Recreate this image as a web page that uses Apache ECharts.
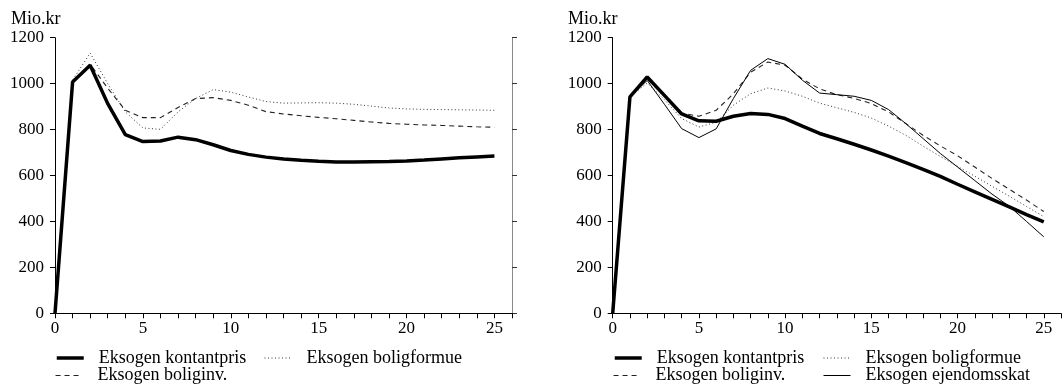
<!DOCTYPE html>
<html>
<head>
<meta charset="utf-8">
<script src="https://cdn.jsdelivr.net/npm/echarts@6/dist/echarts.min.js"></script>
<style>
html,body{margin:0;padding:0;background:#fff;}
#c{width:1064px;height:385px;}
</style>
</head>
<body>
<div id="c"></div>
<script>
// Years after shock (x categories as numeric values)
const years = [0,1,2,3,4,5,6,7,8,9,10,11,12,13,14,15,16,17,18,19,20,21,22,23,24,25];
const yTicks = [0,200,400,600,800,1000,1200];
const unitLabel = 'Mio.kr';

// Left panel
const leftKontantpris = [0,1007,1080,913,778,748,750,767,756,734,709,692,680,672,666,662,659,659,660,661,663,667,672,677,681,685];
const leftBoliginv    = [0,1007,1085,980,884,852,852,896,935,939,927,906,878,868,860,853,847,840,833,827,823,820,818,815,812,810];
const leftBoligformue = [0,1015,1133,1000,877,807,801,877,935,974,963,942,922,915,916,917,915,910,902,894,890,888,887,886,885,884];

// Right panel
const rightKontantpris  = [0,942,1029,949,868,838,836,858,870,866,848,815,783,760,736,711,684,656,627,596,562,529,496,463,430,398];
const rightBoliginv     = [0,942,1020,945,872,858,884,956,1050,1094,1080,1020,977,952,936,913,877,826,775,729,686,637,587,540,493,443];
const rightBoligformue  = [0,942,1003,930,848,811,832,906,956,981,968,945,915,895,875,850,815,775,728,683,640,597,553,510,465,421];
const rightEjendomsskat = [0,942,1014,910,804,765,803,935,1058,1109,1084,1015,959,952,945,927,887,826,761,696,637,578,519,466,400,333];

const names = ['Eksogen kontantpris','Eksogen boliginv.','Eksogen boligformue','Eksogen ejendomsskat'];

const FONT = '"Liberation Serif","Times New Roman",serif';
const pair = arr => arr.map((v,i)=>[years[i], v]);

const styles = {
  'Eksogen kontantpris': {color:'#000', width:3.5, type:'solid'},
  'Eksogen boliginv.': {color:'#222', width:1.1, type:[5,4]},
  'Eksogen boligformue': {color:'#333', width:1, type:[1,2.5]},
  'Eksogen ejendomsskat': {color:'#000', width:1, type:'solid'}
};

function mkSeries(name, data, idx){
  const s = styles[name];
  return {
    name, type:'line', xAxisIndex:idx, yAxisIndex:idx===0?0:2,
    data: pair(data), symbol:'none', smooth:false, animation:false,
    lineStyle:{color:s.color, width:s.width, type:s.type},
    itemStyle:{color:s.color}, z: name==='Eksogen kontantpris'?5:3
  };
}

function xAx(gi){
  return {
    type:'value', gridIndex:gi, min:0, max:26, interval:1,
    axisLine:{show:true, lineStyle:{color:'#000', width:1}},
    axisTick:{show:true, length:5, lineStyle:{color:'#000'}},
    axisLabel:{margin:7, fontFamily:FONT, fontSize:17, color:'#000',
      formatter: v => (v % 5 === 0 ? String(v) : '')},
    splitLine:{show:false}
  };
}
function yAx(gi, pos, showLabel, lineColor){
  return {
    type:'value', gridIndex:gi, position:pos, min:yTicks[0], max:yTicks[yTicks.length-1], interval:200,
    axisLine:{show:true, onZero:false, lineStyle:{color:lineColor, width:1}},
    axisTick:{show:true, length:5, lineStyle:{color:pos==='right'?'#333':'#000'}},
    axisLabel:{show:showLabel, margin:11, fontFamily:FONT, fontSize:17, color:'#000',
      formatter: v => String(v)},
    splitLine:{show:false}
  };
}

function legendItem(name, left, top){
  const s = styles[name];
  return {
    left, top, orient:'horizontal', itemWidth:27, itemHeight:14, itemGap:0, padding:0,
    data:[name], selectedMode:false,
    itemStyle:{opacity:0},
    lineStyle:{width:s.width, type:s.type, color:s.color, opacity:1},
    textStyle:{fontFamily:FONT, fontSize:18, color:'#000', padding:[0,0,0,10], lineHeight:18}
  };
}

const option = {
  animation:false,
  backgroundColor:'#fff',
  title:[
    {text:unitLabel, left:11, top:10, padding:0, textStyle:{fontFamily:FONT, fontSize:18, fontWeight:'normal', color:'#000'}},
    {text:unitLabel, left:568, top:10, padding:0, textStyle:{fontFamily:FONT, fontSize:18, fontWeight:'normal', color:'#000'}}
  ],
  grid:[
    {left:55, width:457, top:37.7, height:275.6},
    {left:612.7, width:457.6, top:37.7, height:275.6}
  ],
  xAxis:[xAx(0), xAx(1)],
  yAxis:[yAx(0,'left',true,'#000'), yAx(0,'right',false,'#888'), yAx(1,'left',true,'#000')],
  legend:[
    legendItem(names[0], 55, 349),
    legendItem(names[2], 264, 349),
    legendItem(names[1], 55, 366.5),
    legendItem(names[0], 613, 349),
    legendItem(names[2], 823, 349),
    legendItem(names[1], 613, 366.5),
    legendItem(names[3], 823, 366.5)
  ],
  series:[
    mkSeries(names[2], leftBoligformue, 0),
    mkSeries(names[1], leftBoliginv, 0),
    mkSeries(names[0], leftKontantpris, 0),
    mkSeries(names[2], rightBoligformue, 1),
    mkSeries(names[1], rightBoliginv, 1),
    mkSeries(names[3], rightEjendomsskat, 1),
    mkSeries(names[0], rightKontantpris, 1)
  ]
};

const chart = echarts.init(document.getElementById('c'), null, {renderer:'canvas'});
chart.setOption(option);
</script>
</body>
</html>
